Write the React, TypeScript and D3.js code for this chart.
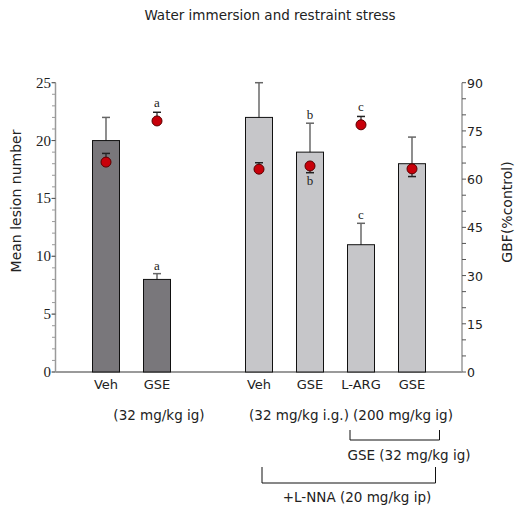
import React from "react";
import * as d3 from "d3";

const categories = ["Veh", "GSE", "Veh", "GSE", "L-ARG", "GSE"];
const slots = [0, 1, 3, 4, 5, 6];
const lesion = [20, 8, 22, 19, 11, 18];
const lesionErr = [2, 0.5, 3, 2.5, 1.85, 2.3];
const lesionMark = ["", "a", "", "b", "c", ""];
const gbf = [65.3, 78.1, 63.1, 64.1, 76.9, 63.2];
const gbfErr = [2.7, 2.7, 2.0, 2.1, 2.6, 2.4];
const gbfErrDir = [1, 1, 1, -1, 1, -1];
const gbfMark = ["", "a", "", "b", "c", ""];
const groupDark = [true, true, false, false, false, false];
const leftTicks = [0, 5, 10, 15, 20, 25];
const rightTicks = [0, 15, 30, 45, 60, 75, 90];

const W = 523;
const H = 512;
const sans = "'DejaVu Sans', Verdana, sans-serif";
const serif = "'Liberation Serif', 'Times New Roman', serif";

export default function App() {
  const x = d3.scaleLinear().domain([0, 6]).range([106, 412]);
  const yL = d3.scaleLinear().domain([0, 25]).range([372, 82.7]);
  const yR = d3.scaleLinear().domain([0, 90]).range([372, 82.7]);
  const barW = 27;
  const capW = 8;
  const axisCol = "#9a9a9a";
  const leftMinor = d3.range(0, 26, 1);
  const rightMinor = d3.range(0, 91, 5);
  const axL = 55.5;
  const axR = 462;

  return (
    <svg
      width={W}
      height={H}
      style={{ position: "absolute", left: 0, top: 0, background: "#fff" }}
    >
      <text x={270} y={20} textAnchor="middle" fontFamily={sans} fontSize={13.5} fill="#222">
        Water immersion and restraint stress
      </text>

      {/* left axis */}
      <line x1={axL} x2={axL} y1={yL(25)} y2={yL(0)} stroke={axisCol} strokeWidth={1.5} />
      {leftMinor.map((t) => (
        <line key={"lm" + t} x1={axL - 3.5} x2={axL} y1={yL(t)} y2={yL(t)} stroke={axisCol} strokeWidth={1} />
      ))}
      {leftTicks.map((t) => (
        <g key={"lt" + t}>
          <line x1={axL - 4} x2={axL} y1={yL(t)} y2={yL(t)} stroke="#555" strokeWidth={1} />
          <text x={axL - 4.5} y={yL(t) + 5} textAnchor="end" fontFamily={serif} fontSize={15} fill="#222">
            {t}
          </text>
        </g>
      ))}
      <text
        transform={`translate(21,201) rotate(-90)`}
        textAnchor="middle"
        fontFamily={sans}
        fontSize={14}
        fill="#222"
      >
        Mean lesion number
      </text>

      {/* right axis */}
      <line x1={axR} x2={axR} y1={yR(90)} y2={yR(0)} stroke={axisCol} strokeWidth={1.5} />
      {rightMinor.map((t) => (
        <line key={"rm" + t} x1={axR} x2={axR + 4} y1={yR(t)} y2={yR(t)} stroke="#555" strokeWidth={1} />
      ))}
      {rightTicks.map((t) => (
        <text key={"rt" + t} x={axR + 5} y={yR(t) + 5} textAnchor="start" fontFamily={sans} fontSize={12.5} fill="#222">
          {t}
        </text>
      ))}
      <text
        transform={`translate(512,212) rotate(-90)`}
        textAnchor="middle"
        fontFamily={sans}
        fontSize={14}
        fill="#222"
      >
        GBF(%control)
      </text>

      {/* baseline */}
      <line x1={axL} x2={axR} y1={yL(0)} y2={yL(0)} stroke={axisCol} strokeWidth={2} />

      {/* bars */}
      {lesion.map((v, i) => {
        const cx = x(slots[i]);
        return (
          <g key={"b" + i}>
            <line x1={cx} x2={cx} y1={yL(v) + 3} y2={yL(v + lesionErr[i])} stroke="#444" strokeWidth={1.2} />
            <line x1={cx - capW / 2} x2={cx + capW / 2} y1={yL(v + lesionErr[i])} y2={yL(v + lesionErr[i])} stroke="#666" strokeWidth={1.5} />
            <rect
              x={cx - barW / 2}
              y={yL(v)}
              width={barW}
              height={yL(0) - yL(v)}
              fill={groupDark[i] ? "#79777b" : "#c6c6c9"}
              stroke="#111"
              strokeWidth={1}
            />
            {lesionMark[i] && (
              <text x={cx} y={yL(v + lesionErr[i]) - 4} textAnchor="middle" fontFamily={serif} fontSize={13} fill="#222">
                {lesionMark[i]}
              </text>
            )}
          </g>
        );
      })}

      {/* GBF points */}
      {gbf.map((v, i) => {
        const cx = x(slots[i]);
        const end = v + gbfErrDir[i] * gbfErr[i];
        return (
          <g key={"p" + i}>
            <line x1={cx} x2={cx} y1={yR(v)} y2={yR(end)} stroke="#222" strokeWidth={1.2} />
            <line x1={cx - capW / 2} x2={cx + capW / 2} y1={yR(end)} y2={yR(end)} stroke="#222" strokeWidth={1.5} />
            <circle cx={cx} cy={yR(v)} r={5} fill="#c8000a" stroke="#5a0000" strokeWidth={1} />
            {gbfMark[i] && (
              <text
                x={cx}
                y={gbfErrDir[i] > 0 ? yR(end) - 5 : yR(end) + 12}
                textAnchor="middle"
                fontFamily={serif}
                fontSize={13}
                fill="#222"
              >
                {gbfMark[i]}
              </text>
            )}
          </g>
        );
      })}

      {/* category labels */}
      {categories.map((c, i) => (
        <text key={"c" + i} x={x(slots[i])} y={389} textAnchor="middle" fontFamily={sans} fontSize={13} fill="#222">
          {c}
        </text>
      ))}

      {/* dose annotations */}
      <g fontFamily={sans} fontSize={13.5} fill="#222">
        <text x={159} y={420} textAnchor="middle">(32 mg/kg ig)</text>
        <text x={299} y={420} textAnchor="middle">(32 mg/kg i.g.)</text>
        <text x={403} y={420} textAnchor="middle">(200 mg/kg ig)</text>
        <text x={409} y={460} textAnchor="middle">GSE (32 mg/kg ig)</text>
        <text x={357} y={502} textAnchor="middle">+L-NNA (20 mg/kg ip)</text>
      </g>
      <path d="M350,430V440H439.5V430" fill="none" stroke="#111" strokeWidth={1} />
      <path d="M262,467V483H435.5V467" fill="none" stroke="#111" strokeWidth={1} />
    </svg>
  );
}
